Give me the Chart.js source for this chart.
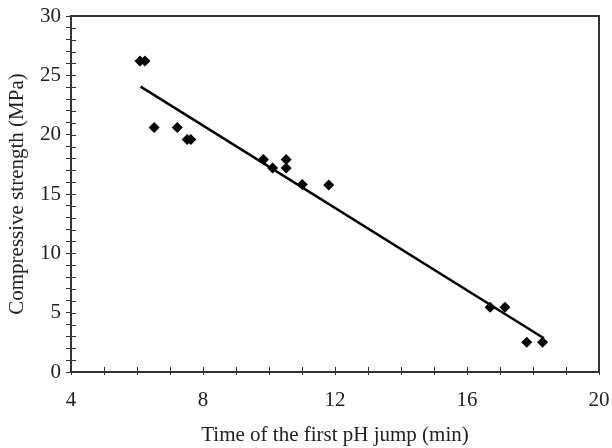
<!DOCTYPE html>
<html>
<head>
<meta charset="utf-8">
<script src="https://cdn.jsdelivr.net/npm/chart.js@4"></script>
<style>
  html, body { margin: 0; padding: 0; background: #fff; }
  #wrap { width: 612px; height: 448px; }
</style>
</head>
<body>
<div id="wrap"><canvas id="c" width="612" height="448"></canvas></div>
<script>
// Measured data: time of first pH jump (min) vs compressive strength (MPa)
const timeMin = [6.09, 6.24, 6.52, 7.22, 7.52, 7.63, 9.83, 10.11, 10.52, 10.52, 11.01, 11.81, 16.70, 17.15, 17.81, 18.29];
const strengthMPa = [26.2, 26.2, 20.6, 20.6, 19.6, 19.6, 17.9, 17.2, 17.9, 17.2, 15.8, 15.75, 5.45, 5.45, 2.5, 2.5];
// Linear fit line endpoints
const fitX = [6.11, 18.33];
const fitY = [24.05, 2.84];
// Axis ticks
const xTickLabels = [4, 8, 12, 16, 20];
const yTickLabels = [0, 5, 10, 15, 20, 25, 30];
const xTitle = 'Time of the first pH jump (min)';
const yTitle = 'Compressive strength (MPa)';

const FONT = "'Liberation Serif', 'Times New Roman', serif";
const INK = '#222';

const framePlugin = {
  id: 'frame',
  afterDatasetsDraw(chart) {
    const { ctx, chartArea: a, scales } = chart;
    ctx.save();
    ctx.strokeStyle = '#333';
    ctx.lineWidth = 1;
    // inner tick marks
    const xs = scales.x, ys = scales.y;
    for (let v = xs.min; v <= xs.max; v++) {
      const px = Math.round(xs.getPixelForValue(v)) + 0.5;
      ctx.beginPath(); ctx.moveTo(px, a.bottom); ctx.lineTo(px, a.bottom - 5); ctx.stroke();
    }
    for (let v = ys.min; v <= ys.max; v++) {
      const py = Math.round(ys.getPixelForValue(v)) + 0.5;
      ctx.beginPath(); ctx.moveTo(a.left, py); ctx.lineTo(a.left + 5, py); ctx.stroke();
    }
    // top and right frame
    ctx.strokeStyle = '#333';
    ctx.lineWidth = 2;
    ctx.beginPath();
    ctx.moveTo(a.left, a.top);
    ctx.lineTo(a.right, a.top);
    ctx.lineTo(a.right, a.bottom);
    ctx.stroke();
    ctx.restore();
  }
};

new Chart(document.getElementById('c'), {
  type: 'scatter',
  data: {
    datasets: [
      {
        label: 'Data',
        data: timeMin.map((x, i) => ({ x: x, y: strengthMPa[i] })),
        pointStyle: 'rectRot',
        pointRadius: 5.5,
        pointBackgroundColor: '#000',
        pointBorderColor: '#000',
        pointBorderWidth: 0,
        showLine: false
      },
      {
        label: 'Fit',
        type: 'line',
        data: fitX.map((x, i) => ({ x: x, y: fitY[i] })),
        borderColor: '#000',
        borderWidth: 2.5,
        pointRadius: 0,
        fill: false,
        tension: 0
      }
    ]
  },
  options: {
    responsive: false,
    animation: false,
    devicePixelRatio: 1,
    layout: { padding: { left: 0, right: 13, top: 16, bottom: 0 } },
    plugins: {
      legend: { display: false },
      tooltip: { enabled: false }
    },
    scales: {
      x: {
        type: 'linear',
        min: xTickLabels[0],
        max: xTickLabels[xTickLabels.length - 1],
        afterFit(s) { s.height = 76; s.paddingLeft = 0; s.paddingRight = 0; },
        border: { display: true, color: '#333', width: 2 },
        grid: { drawOnChartArea: false, drawTicks: true, tickLength: 3, color: '#333', lineWidth: 1 },
        ticks: {
          stepSize: 1,
          autoSkip: false,
          maxRotation: 0,
          padding: 13,
          color: INK,
          font: { family: FONT, size: 21 },
          callback: (v) => xTickLabels.includes(v) ? String(v) : ''
        },
        title: {
          display: true,
          text: xTitle,
          color: INK,
          font: { family: FONT, size: 21 },
          padding: { top: 0, bottom: 0 }
        }
      },
      y: {
        type: 'linear',
        min: yTickLabels[0],
        max: yTickLabels[yTickLabels.length - 1],
        afterFit(s) { s.width = 71; s.paddingTop = 0; s.paddingBottom = 0; },
        border: { display: true, color: '#333', width: 2 },
        grid: { drawOnChartArea: false, drawTicks: true, tickLength: 5, color: '#333', lineWidth: 1 },
        ticks: {
          stepSize: 1,
          autoSkip: false,
          padding: 5,
          color: INK,
          font: { family: FONT, size: 21 },
          callback: (v) => yTickLabels.includes(v) ? String(v) : ''
        },
        title: {
          display: true,
          text: yTitle,
          color: INK,
          font: { family: FONT, size: 21 },
          padding: { top: 5, bottom: 0 }
        }
      }
    }
  },
  plugins: [framePlugin]
});
</script>
</body>
</html>
